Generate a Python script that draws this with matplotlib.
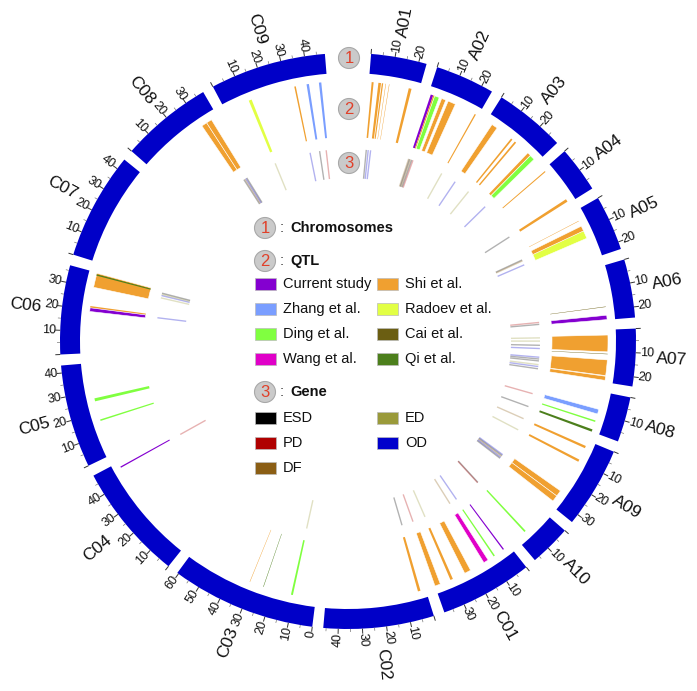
import numpy as np
import matplotlib
matplotlib.use('Agg')
import matplotlib.pyplot as plt
from matplotlib.patches import Rectangle, Circle

plt.rcParams['font.family'] = ['Liberation Sans', 'DejaVu Sans']

# ---------------- data ----------------
chroms = ['A01', 'A02', 'A03', 'A04', 'A05', 'A06', 'A07', 'A08', 'A09', 'A10',
          'C01', 'C02', 'C03', 'C04', 'C05', 'C06', 'C07', 'C08', 'C09']
lengths = [23.3, 24.8, 29.8, 19.2, 23.1, 24.4, 24.0, 18.9, 33.9, 17.4,
           38.8, 46.2, 60.6, 48.9, 43.1, 37.2, 44.8, 38.5, 48.5]

qtl_chrom = ['A01'] * 6 + ['A02'] * 6 + ['A03'] * 5 + ['A04'] * 2 + ['A05'] * 3 + \
            ['A06'] * 2 + ['A07'] * 4 + ['A08'] * 3 + ['A09'] * 4 + ['A10'] + \
            ['C01'] * 6 + ['C02'] + ['C03'] * 3 + ['C04'] + ['C05'] * 2 + \
            ['C06'] * 4 + ['C08'] * 2 + ['C09'] * 4
qtl_start = [1.3, 4.4, 6.0, 7.7, 9.3, 18.5,
             1.1, 2.3, 3.0, 6.4, 9.6, 23.1,
             3.0, 13.8, 16.0, 24.0, 25.6,
             0.9, 17.0,
             4.7, 9.7, 7.4,
             18.3, 22.3,
             2.4, 11.0, 13.8, 21.3,
             8.2, 13.5, 17.8,
             2.5, 9.4, 26.1, 29.0,
             11.9,
             2.9, 8.0, 11.7, 21.0, 30.0, 36.2,
             2.4,
             10.6, 24.5, 31.1,
             46.2,
             16.1, 25.4,
             20.8, 19.1, 30.3, 35.8,
             30.2, 32.8,
             11.5, 33.3, 39.0, 44.7]
qtl_end = [2.2, 5.6, 6.6, 7.9, 9.5, 19.8,
           2.3, 3.0, 5.2, 8.4, 13.2, 23.7,
           5.8, 14.6, 16.8, 25.4, 28.0,
           1.4, 18.3,
           4.9, 13.5, 9.8,
           18.5, 24.3,
           10.1, 11.2, 21.0, 23.2,
           10.4, 14.2, 18.9,
           3.6, 10.5, 29.0, 31.9,
           12.7,
           3.5, 8.7, 14.0, 24.0, 31.2, 38.8,
           3.6,
           11.5, 24.7, 31.3,
           46.8,
           16.8, 26.8,
           21.6, 20.8, 36.9, 36.4,
           32.8, 35.4,
           12.9, 34.0, 40.1, 45.8]
qtl_source = ['Shi et al.'] * 6 + \
             ['Current study', 'Shi et al.', 'Ding et al.', 'Shi et al.', 'Shi et al.', 'Shi et al.'] + \
             ['Shi et al.'] * 4 + ['Ding et al.'] + \
             ['Shi et al.'] * 2 + \
             ['Shi et al.', 'Radoev et al.', 'Shi et al.'] + \
             ['Cai et al.', 'Current study'] + \
             ['Shi et al.', 'Cai et al.', 'Shi et al.', 'Shi et al.'] + \
             ['Zhang et al.', 'Ding et al.', 'Qi et al.'] + \
             ['Shi et al.'] * 4 + \
             ['Ding et al.'] + \
             ['Current study', 'Ding et al.', 'Wang et al.', 'Shi et al.', 'Shi et al.', 'Shi et al.'] + \
             ['Shi et al.'] + \
             ['Ding et al.', 'Qi et al.', 'Shi et al.'] + \
             ['Current study'] + \
             ['Ding et al.', 'Ding et al.'] + \
             ['Shi et al.', 'Current study', 'Shi et al.', 'Qi et al.'] + \
             ['Shi et al.', 'Shi et al.'] + \
             ['Radoev et al.', 'Shi et al.', 'Zhang et al.', 'Zhang et al.']

gene_chrom = ['A01'] * 3 + ['A02'] * 6 + ['A03'] * 3 + ['A04'] + ['A05'] * 3 + ['A06'] * 2 + \
             ['A07'] * 10 + ['A08'] * 2 + ['A09'] * 7 + ['A10'] * 2 + ['C01'] * 4 + ['C02'] + \
             ['C03'] + ['C04'] + ['C06'] * 5 + ['C08'] * 4 + ['C09'] * 4
gene_pos = [1.8, 3.0, 4.5,
            0.8, 1.4, 2.0, 2.8, 3.6, 23.2,
            3.6, 13.9, 27.8,
            17.5,
            10.0, 10.6, 13.3,
            22.6, 23.8,
            3.2, 5.2, 7.8, 9.8, 15.2, 16.3, 17.5, 19.8, 21.0, 22.4,
            9.6, 18.0,
            2.6, 10.3, 28.4, 29.1, 29.8, 30.5, 31.2,
            13.0, 13.3,
            8.0, 12.8, 30.3, 38.3,
            2.1,
            11.0,
            46.3,
            20.0, 32.5, 34.0, 34.8, 35.5,
            33.0, 33.7, 34.4, 35.1,
            11.8, 34.4, 40.4, 44.5]
gene_type = ['ESD', 'OD', 'OD',
             'DF', 'ESD', 'DF', 'ESD', 'PD', 'ED',
             'OD', 'ED', 'OD',
             'ESD',
             'ESD', 'DF', 'OD',
             'PD', 'ESD',
             'ED', 'ED', 'ESD', 'OD', 'OD', 'ESD', 'ESD', 'ED', 'OD', 'ESD',
             'PD', 'ESD',
             'DF', 'ED', 'OD', 'ESD', 'DF', 'OD', 'ESD',
             'ESD', 'PD',
             'OD', 'DF', 'ED', 'PD',
             'ESD',
             'ED',
             'PD',
             'OD', 'ED', 'OD', 'ED', 'ESD',
             'ESD', 'DF', 'OD', 'ESD',
             'ED', 'OD', 'ESD', 'PD']

qtl_sources = ['Current study', 'Zhang et al.', 'Ding et al.', 'Wang et al.',
               'Shi et al.', 'Radoev et al.', 'Cai et al.', 'Qi et al.']
qtl_colors = ['#8400D0', '#7A9EFF', '#80FF40', '#E000C8',
              '#F0A030', '#E2FF44', '#6B5E12', '#4C7F1C']
gene_types = ['ESD', 'PD', 'DF', 'ED', 'OD']
gene_colors = ['#000000', '#B00000', '#8B5E14', '#9A9A3A', '#0000CC']

# ---------------- layout ----------------
W, H = 697, 691
CX, CY = 348, 341
RMAX = 300
TOP_GAP = 9.2
GAP = 2.2
K = (360 - TOP_GAP - (len(chroms) - 1) * GAP) / sum(lengths)
starts = {}
acc = TOP_GAP / 2
for c, L in zip(chroms, lengths):
    starts[c] = acc
    acc += L * K + GAP


def ang(c, p):
    return starts[c] + np.asarray(p) * K


fig = plt.figure(figsize=(W / 100, H / 100), dpi=100)
ax = fig.add_axes([(CX - RMAX) / W, (H - CY - RMAX) / H, 2 * RMAX / W, 2 * RMAX / H],
                  projection='polar')
ax.set_theta_zero_location('N')
ax.set_theta_direction(-1)
ax.set_ylim(0, RMAX)
ax.set_axis_off()

R_IN, R_OUT = 268, 288
Q_IN, Q_OUT = 204, 260
G_IN, G_OUT = 163, 192


def place_text(a_deg, r, s, size, color='#111111'):
    if a_deg <= 180:
        rot, ha = 90 - a_deg, 'left'
    else:
        rot, ha = 270 - a_deg, 'right'
    ax.text(np.deg2rad(a_deg), r, s, rotation=rot, rotation_mode='anchor',
            ha=ha, va='center', fontsize=size, color=color)


# chromosome ring, ticks, labels
for c, L in zip(chroms, lengths):
    a0, a1 = ang(c, 0), ang(c, L)
    ax.bar(np.deg2rad((a0 + a1) / 2), R_OUT - R_IN, width=np.deg2rad(a1 - a0),
           bottom=R_IN, color='#0000C8', edgecolor='none')
    majors = np.arange(0, L + 0.01, 10)
    minors = np.arange(5, L + 0.01, 10)
    ax.vlines(np.deg2rad(ang(c, majors)), R_OUT, R_OUT + 5, color='#333333', lw=0.7)
    ax.vlines(np.deg2rad(ang(c, minors)), R_OUT, R_OUT + 3, color='#777777', lw=0.5)
    for v in majors:
        if v == 0 and c != 'C03':
            continue
        place_text(ang(c, v), R_OUT + 4, f'{int(v)}', 9)
    place_text(ang(c, L / 2), 309, c, 12.5)

# QTL track
cmap_q = dict(zip(qtl_sources, qtl_colors))
for c, s, e, src in zip(qtl_chrom, qtl_start, qtl_end, qtl_source):
    a0, a1 = ang(c, s), ang(c, e)
    wide = (e - s) > 1.5
    ax.bar(np.deg2rad((a0 + a1) / 2), Q_OUT - Q_IN, width=np.deg2rad(a1 - a0),
           bottom=Q_IN, color=cmap_q[src],
           edgecolor='white' if wide else 'none', linewidth=0.4 if wide else 0)

# Gene track
cmap_g = dict(zip(gene_types, gene_colors))
for c, p, t in zip(gene_chrom, gene_pos, gene_type):
    ax.vlines(np.deg2rad(ang(c, p)), G_IN, G_OUT, color=cmap_g[t], alpha=0.3, lw=1.0)

# ---------------- legend overlay ----------------
lax = fig.add_axes([0, 0, 1, 1])
lax.set_xlim(0, W)
lax.set_ylim(H, 0)
lax.axis('off')


def badge(x, y, n):
    lax.add_patch(Circle((x, y), 10.5, facecolor='#CACACA', edgecolor='#A8A8A8', lw=0.8))
    lax.text(x, y + 0.5, n, ha='center', va='center', fontsize=12, color='#E0402A')


for n, y in zip(['1', '2', '3'], [58, 109, 163]):
    badge(349, y, n)

for n, y, title in zip(['1', '2', '3'], [228, 261, 392], ['Chromosomes', 'QTL', 'Gene']):
    badge(265, y, n)
    lax.text(280, y, ':', ha='left', va='center', fontsize=10.5, color='#333333')
    lax.text(290, y, title, ha='left', va='center', fontsize=10.5, fontweight='bold', color='#111111')

rows_q = [284, 309, 334, 359]
for i, (src, col) in enumerate(zip(qtl_sources, qtl_colors)):
    colx = 255 if i < 4 else 377
    tx = 283 if i < 4 else 405
    y = rows_q[i % 4]
    lax.add_patch(Rectangle((colx, y - 6), 21, 12, facecolor=col, edgecolor='#BBBBBB', lw=0.5))
    lax.text(tx, y, src, ha='left', va='center', fontsize=10.5, color='#111111')

rows_g = [418, 443, 468]
for i, (gt, col) in enumerate(zip(gene_types, gene_colors)):
    colx = 255 if i < 3 else 377
    tx = 283 if i < 3 else 405
    y = rows_g[i % 3]
    lax.add_patch(Rectangle((colx, y - 6), 21, 12, facecolor=col, edgecolor='#BBBBBB', lw=0.5))
    lax.text(tx, y, gt, ha='left', va='center', fontsize=10.5, color='#111111')

fig.savefig('out.png', dpi=100)
